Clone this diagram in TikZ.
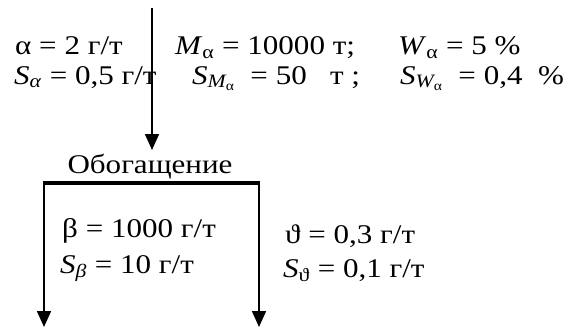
\documentclass[tikz,border=0pt]{standalone}
\usepackage{amsmath}
\usepackage{fontspec}
\setmainfont{Liberation Serif}[FakeStretch=1.15]
\usetikzlibrary{arrows.meta, positioning}

\newcommand{\qsub}[2]{\textit{#1}$_{\text{#2}}$}

\begin{document}
\begin{tikzpicture}[x=1pt, y=-1pt,
  txt/.style={anchor=base west, inner sep=0pt, font=\fontsize{27}{32}\selectfont},
  flow/.style={line width=1.8pt, -{Triangle[width=14pt,length=16pt]}}]

\useasboundingbox (0,0) rectangle (564,329);

% feed data
\node[txt] (a1) at (15,55) {α = 2 г/т};
\node[txt] (a2) at (14,84) {\qsub{S}{\textit{α}} = 0,5 г/т};
\node[txt] (m1) at (175,55) {\qsub{M}{α} = 10000 т;};
\node[txt] (w1) at (398,55) {\qsub{W}{α} = 5 \%};
\node[txt] (m2) at (192,84) {\textit{S}$_{\textit{M}_{\text{α}}}$\ \ = 50\ \ \ т\ ;};
\node[txt] (w2) at (400,84) {\textit{S}$_{\textit{W}_{\text{α}}}$\ \ = 0,4\ \ \%};

% stage
\coordinate (in) at (152,8);
\coordinate (feed) at (152,150);
\node[txt, anchor=base] (stage) at (150,173) {Обогащение};
\coordinate (bl) at (44,183);
\coordinate (br) at (259,183);
\coordinate (conc) at (44,327);
\coordinate (tail) at (259,327);

\draw[flow] (in) -- (feed);
\draw[line width=4pt] ([xshift=-1pt]bl) -- ([xshift=1pt]br);
\draw[flow] (bl) -- (conc);
\draw[flow] (br) -- (tail);

% products
\node[txt] (b1) at (62,237) {β = 1000 г/т};
\node[txt] (b2) at (60,273) {\qsub{S}{\textit{β}} = 10 г/т};
\node[txt] (t1) at (285,243) {ϑ = 0,3 г/т};
\node[txt] (t2) at (283,277) {\qsub{S}{ϑ} = 0,1 г/т};

\end{tikzpicture}
\end{document}
